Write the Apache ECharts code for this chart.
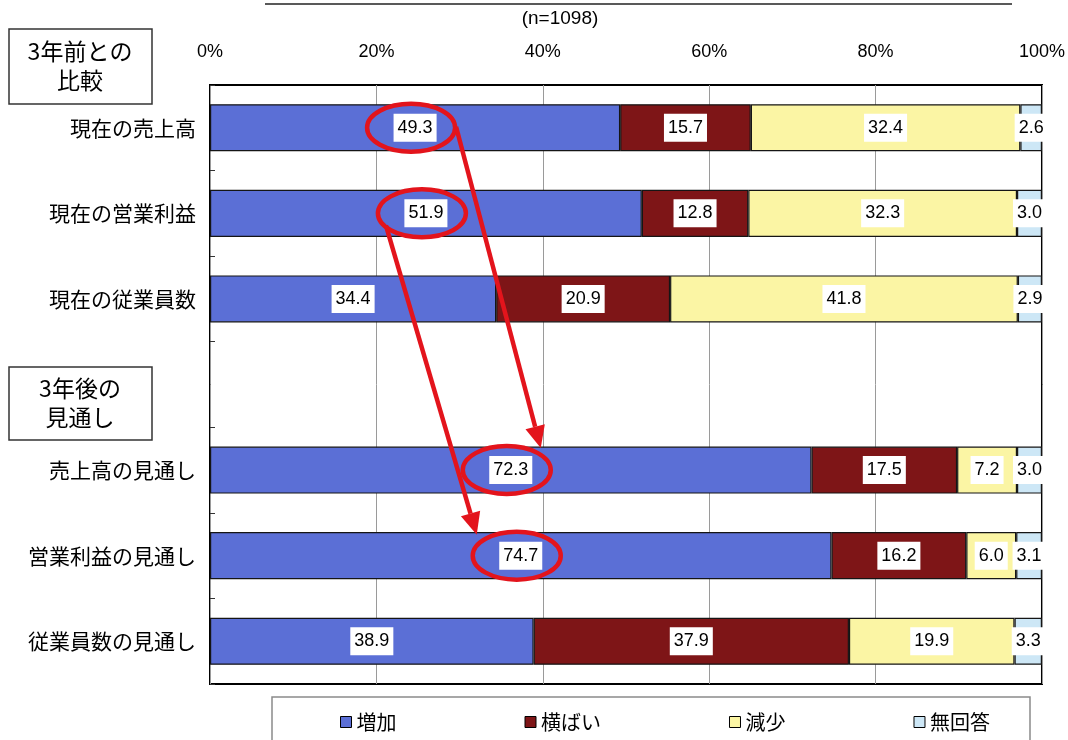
<!DOCTYPE html>
<html>
<head>
<meta charset="utf-8">
<script src="https://cdn.jsdelivr.net/npm/echarts@6/dist/echarts.min.js"></script>
<style>
  html, body { margin: 0; padding: 0; background: #fff; }
  #main { width: 1068px; height: 740px; }
</style>
</head>
<body>
<div id="main"></div>
<script>
// Survey results (n=1098): change vs. 3 years ago and 3-year outlook, in %
var categories = ['現在の売上高', '現在の営業利益', '現在の従業員数', '', '売上高の見通し', '営業利益の見通し', '従業員数の見通し'];
var seriesNames = ['増加', '横ばい', '減少', '無回答'];
var increase = [49.3, 51.9, 34.4, null, 72.3, 74.7, 38.9];
var flat = [15.7, 12.8, 20.9, null, 17.5, 16.2, 37.9];
var decrease = [32.4, 32.3, 41.8, null, 7.2, 6.0, 19.9];
var noAnswer = [2.6, 3.0, 2.9, null, 3.0, 3.1, 3.3];
var percentTicks = [0, 20, 40, 60, 80, 100];

var colors = ['#5B6FD6', '#7E1517', '#FBF5A4', '#CDE7F6'];
var numFont = '"Liberation Sans Narrow", "Liberation Sans", Arial, sans-serif';
var jpFont = '"Noto Sans CJK JP", "Noto Sans", sans-serif';

var chart = echarts.init(document.getElementById('main'));

function barSeries(name, data, color) {
  return {
    name: name,
    type: 'bar',
    stack: 'total',
    barWidth: '55%',
    data: data,
    itemStyle: { color: color, borderColor: '#151515', borderWidth: 1.2 },
    label: {
      show: true,
      position: 'inside',
      formatter: function (p) { return p.value == null ? '' : Number(p.value).toFixed(1); },
      color: '#000',
      fontFamily: numFont,
      fontSize: 18,
      backgroundColor: '#fff',
      padding: [6, 4, 4, 4]
    },
    emphasis: { disabled: true },
    z: 3
  };
}

var option = {
  animation: false,
  backgroundColor: '#fff',
  textStyle: { fontFamily: jpFont },
  grid: {
    left: 210, right: 23, top: 85, bottom: 56,
    show: true, borderColor: '#000', borderWidth: 2, backgroundColor: '#fff'
  },
  legend: {
    data: seriesNames,
    left: 335, top: 707,
    icon: 'rect', itemWidth: 11, itemHeight: 11, itemGap: 128,
    itemStyle: { borderColor: '#000', borderWidth: 1 },
    textStyle: { fontFamily: jpFont, fontSize: 20, color: '#000' },
    selectedMode: false
  },
  xAxis: {
    type: 'value', position: 'top',
    min: percentTicks[0], max: percentTicks[percentTicks.length - 1], interval: 20,
    axisLine: { show: false }, axisTick: { show: false },
    axisLabel: {
      formatter: '{value}%', color: '#000', fontFamily: numFont, fontSize: 18, margin: 24
    },
    splitLine: { show: true, lineStyle: { color: '#9a9a9a', width: 1 } }
  },
  yAxis: {
    type: 'category', inverse: true, data: categories,
    axisLine: { show: false },
    axisTick: { show: true, inside: true, length: 5, lineStyle: { color: '#333' } },
    axisLabel: { color: '#000', fontFamily: jpFont, fontSize: 21, margin: 14 }
  },
  series: [
    barSeries(seriesNames[0], increase, colors[0]),
    barSeries(seriesNames[1], flat, colors[1]),
    barSeries(seriesNames[2], decrease, colors[2]),
    barSeries(seriesNames[3], noAnswer, colors[3])
  ]
};

chart.setOption(option);

// Annotations: group boxes, header, legend frame, highlight ellipses and arrows
var RED = '#E3141C';
function labelCenter(values, idx) {
  return chart.convertToPixel({ gridIndex: 0 }, [values[idx] / 2, idx]);
}
function ellipseAt(p) {
  return {
    type: 'ellipse', z: 20,
    shape: { cx: p[0] - 4, cy: p[1], rx: 44, ry: 24 },
    style: { fill: 'none', stroke: RED, lineWidth: 4.5 }
  };
}
function arrow(x1, y1, x2, y2) {
  var ang = Math.atan2(y2 - y1, x2 - x1);
  var hl = 22, hw = 10;
  var bx = x2 - hl * Math.cos(ang), by = y2 - hl * Math.sin(ang);
  var nx = -Math.sin(ang), ny = Math.cos(ang);
  return [
    { type: 'line', z: 20, shape: { x1: x1, y1: y1, x2: bx, y2: by },
      style: { stroke: RED, lineWidth: 4.5 } },
    { type: 'polygon', z: 20,
      shape: { points: [[x2, y2], [bx + nx * hw, by + ny * hw], [bx - nx * hw, by - ny * hw]] },
      style: { fill: RED } }
  ];
}

var a = labelCenter(increase, 0);
var b = labelCenter(increase, 1);
var c = labelCenter(increase, 4);
var d = labelCenter(increase, 5);

var graphics = [
  { type: 'line', shape: { x1: 265, y1: 4, x2: 1012, y2: 4 }, style: { stroke: '#222', lineWidth: 1.5 } },
  { type: 'text', style: { x: 560, y: 19, text: '(n=1098)', fill: '#000', fontSize: 19, fontFamily: numFont, textAlign: 'center', textVerticalAlign: 'middle' } },
  { type: 'rect', shape: { x: 9, y: 29, width: 143, height: 75 }, style: { fill: '#fff', stroke: '#333', lineWidth: 1.5 } },
  { type: 'text', style: { x: 80, y: 66, text: '3年前との\n比較', fill: '#000', fontSize: 23, fontFamily: jpFont, textAlign: 'center', textVerticalAlign: 'middle', lineHeight: 29 } },
  { type: 'rect', shape: { x: 9, y: 367, width: 143, height: 73 }, style: { fill: '#fff', stroke: '#333', lineWidth: 1.5 } },
  { type: 'text', style: { x: 80, y: 403, text: '3年後の\n見通し', fill: '#000', fontSize: 23, fontFamily: jpFont, textAlign: 'center', textVerticalAlign: 'middle', lineHeight: 29 } },
  { type: 'rect', z: -1, shape: { x: 272, y: 697, width: 758, height: 70 }, style: { fill: '#fff', stroke: '#8a8a8a', lineWidth: 1.5 } },
  ellipseAt(a), ellipseAt(b), ellipseAt(c), ellipseAt(d)
];
graphics = graphics
  .concat(arrow(a[0] + 41, a[1] - 1, c[0] + 30, c[1] - 22))
  .concat(arrow(b[0] - 40, b[1] + 12, d[0] - 44, d[1] - 21));

chart.setOption({ graphic: graphics });
</script>
</body>
</html>
